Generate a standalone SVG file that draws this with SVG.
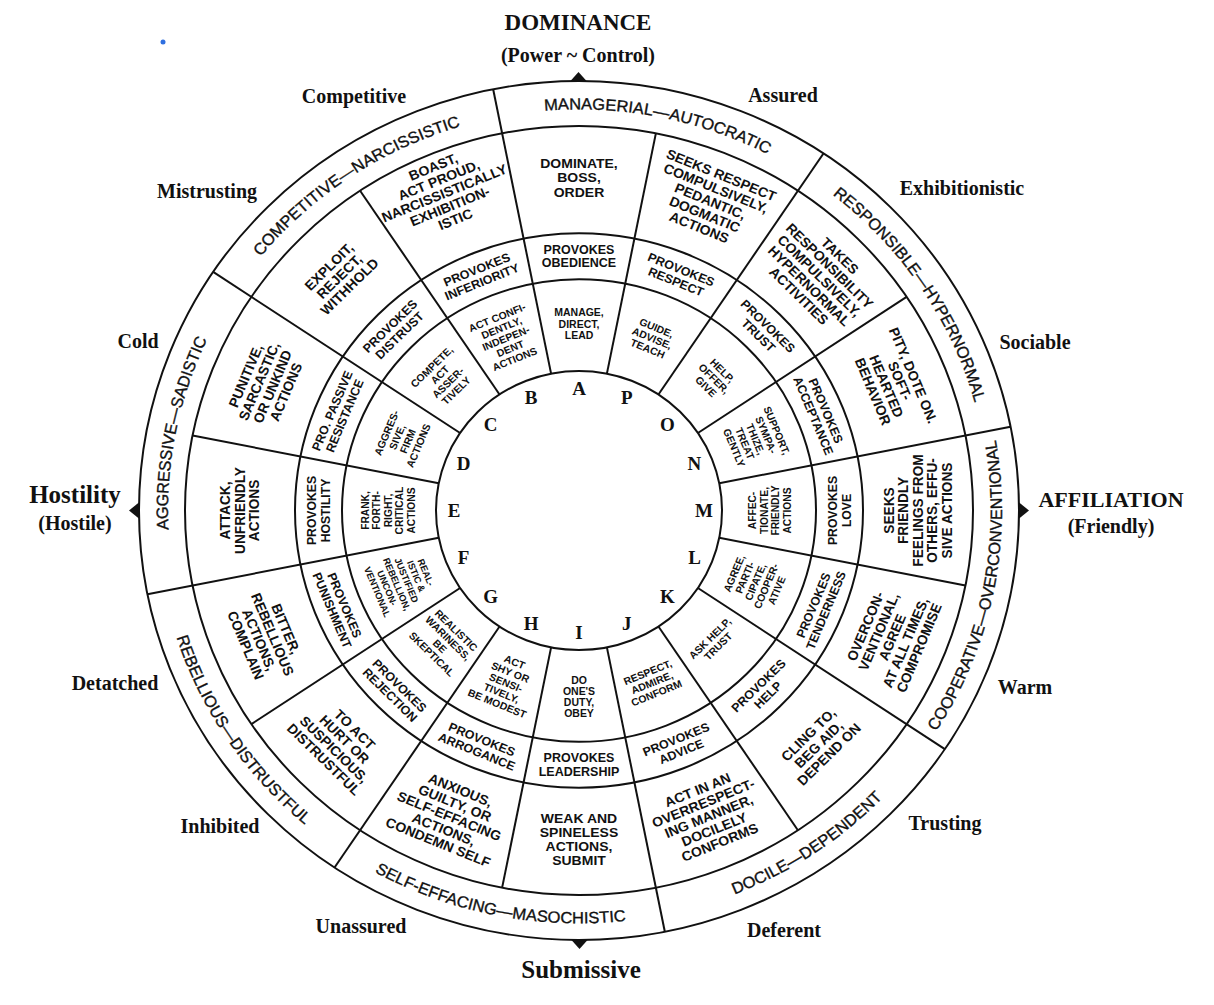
<svg xmlns="http://www.w3.org/2000/svg" width="1214" height="1005" viewBox="0 0 1214 1005">
<style>
.ln{fill:none;stroke:#111;stroke-width:2}
.o{font-family:"Liberation Sans",Arial,sans-serif;font-size:14px;font-weight:bold;text-anchor:middle;fill:#111}
.p{font-family:"Liberation Sans",Arial,sans-serif;font-size:12.5px;font-weight:bold;text-anchor:middle;fill:#111}
.i{font-family:"Liberation Sans",Arial,sans-serif;font-size:10.5px;font-weight:bold;text-anchor:middle;fill:#111}
.f{font-family:"Liberation Sans",Arial,sans-serif;font-size:9.5px;font-weight:bold;text-anchor:middle;fill:#111}
.b{font-family:"Liberation Sans",Arial,sans-serif;font-size:16.5px;fill:#111;stroke:#111;stroke-width:0.35}
.l{font-family:"Liberation Serif","Times New Roman",serif;font-size:19px;font-weight:bold;text-anchor:middle;fill:#111}
.s{font-family:"Liberation Serif","Times New Roman",serif;font-size:20px;font-weight:bold;text-anchor:middle;fill:#111}
.tri{fill:#111}
</style>
<defs>
<path id="pA" d="M -80.18,-403.10 A 411 411 0 0 1 228.34,-341.73"/>
<path id="pO" d="M 228.34,-341.73 A 411 411 0 0 1 403.10,-80.18"/>
<path id="pM" d="M 351.71,235.01 A 423 423 0 0 0 414.87,-82.52"/>
<path id="pK" d="M 82.52,414.87 A 423 423 0 0 0 351.71,235.01"/>
<path id="pI" d="M -235.01,351.71 A 423 423 0 0 0 82.52,414.87"/>
<path id="pG" d="M -414.87,82.52 A 423 423 0 0 0 -235.01,351.71"/>
<path id="pE" d="M -403.10,80.18 A 411 411 0 0 1 -341.73,-228.34"/>
<path id="pC" d="M -341.73,-228.34 A 411 411 0 0 1 -80.18,-403.10"/>
</defs>
<rect width="1214" height="1005" fill="#fff"/>
<circle cx="163" cy="42" r="2.5" fill="#2f6fe0"/>

<g id="axis-labels">
<text class="s" x="578" y="30" style="font-size:23px">DOMINANCE</text>
<text class="s" x="578" y="62">(Power ~ Control)</text>
<text class="s" x="75" y="503" style="font-size:25px">Hostility</text>
<text class="s" x="75" y="530">(Hostile)</text>
<text class="s" x="1111" y="507" style="font-size:22px">AFFILIATION</text>
<text class="s" x="1111" y="533">(Friendly)</text>
<text class="s" x="581" y="978" style="font-size:25px">Submissive</text>
</g>
<g id="trait-labels">
<text class="s" x="354" y="103">Competitive</text>
<text class="s" x="783" y="102">Assured</text>
<text class="s" x="207" y="198">Mistrusting</text>
<text class="s" x="962" y="195">Exhibitionistic</text>
<text class="s" x="138" y="348">Cold</text>
<text class="s" x="1035" y="349">Sociable</text>
<text class="s" x="115" y="690">Detatched</text>
<text class="s" x="1025" y="694">Warm</text>
<text class="s" x="220" y="833">Inhibited</text>
<text class="s" x="945" y="830">Trusting</text>
<text class="s" x="361" y="933">Unassured</text>
<text class="s" x="784" y="937">Deferent</text>
</g>
<g id="axis-markers">
<polygon class="tri" points="570,81.5 587,81.5 578.5,72"/>
<polygon class="tri" points="571,939.5 588,939.5 579.5,949"/>
<polygon class="tri" points="139.5,502 139.5,519 129,510.5"/>
<polygon class="tri" points="1018.5,502 1018.5,519 1029,510.5"/>
</g>

<g id="wheel" transform="translate(579,510.5) scale(1,0.976)">
<g id="rings">
<circle class="ln" r="143"/>
<circle class="ln" r="237"/>
<circle class="ln" r="284"/>
<circle class="ln" r="394"/>
<circle class="ln" r="440"/>
</g>
<g id="connectors">
<line class="ln" x1="0" y1="-143" x2="0" y2="-394" transform="rotate(11.25)"/>
<line class="ln" x1="0" y1="-143" x2="0" y2="-394" transform="rotate(56.25)"/>
<line class="ln" x1="0" y1="-143" x2="0" y2="-394" transform="rotate(101.25)"/>
<line class="ln" x1="0" y1="-143" x2="0" y2="-394" transform="rotate(146.25)"/>
<line class="ln" x1="0" y1="-143" x2="0" y2="-394" transform="rotate(191.25)"/>
<line class="ln" x1="0" y1="-143" x2="0" y2="-394" transform="rotate(236.25)"/>
<line class="ln" x1="0" y1="-143" x2="0" y2="-394" transform="rotate(281.25)"/>
<line class="ln" x1="0" y1="-143" x2="0" y2="-394" transform="rotate(326.25)"/>
<line class="ln" x1="0" y1="-143" x2="0" y2="-440" transform="rotate(33.75)"/>
<line class="ln" x1="0" y1="-143" x2="0" y2="-440" transform="rotate(78.75)"/>
<line class="ln" x1="0" y1="-143" x2="0" y2="-440" transform="rotate(123.75)"/>
<line class="ln" x1="0" y1="-143" x2="0" y2="-440" transform="rotate(168.75)"/>
<line class="ln" x1="0" y1="-143" x2="0" y2="-440" transform="rotate(213.75)"/>
<line class="ln" x1="0" y1="-143" x2="0" y2="-440" transform="rotate(258.75)"/>
<line class="ln" x1="0" y1="-143" x2="0" y2="-440" transform="rotate(303.75)"/>
<line class="ln" x1="0" y1="-143" x2="0" y2="-440" transform="rotate(348.75)"/>
</g>

<g id="band-labels">
<text class="b"><textPath href="#pA" startOffset="50%" text-anchor="middle">MANAGERIAL—AUTOCRATIC</textPath></text>
<text class="b"><textPath href="#pO" startOffset="50%" text-anchor="middle">RESPONSIBLE—HYPERNORMAL</textPath></text>
<text class="b"><textPath href="#pM" startOffset="50%" text-anchor="middle">COOPERATIVE—OVERCONVENTIONAL</textPath></text>
<text class="b"><textPath href="#pK" startOffset="50%" text-anchor="middle">DOCILE—DEPENDENT</textPath></text>
<text class="b"><textPath href="#pI" startOffset="50%" text-anchor="middle">SELF-EFFACING—MASOCHISTIC</textPath></text>
<text class="b"><textPath href="#pG" startOffset="50%" text-anchor="middle">REBELLIOUS—DISTRUSTFUL</textPath></text>
<text class="b"><textPath href="#pE" startOffset="50%" text-anchor="middle">AGGRESSIVE—SADISTIC</textPath></text>
<text class="b"><textPath href="#pC" startOffset="50%" text-anchor="middle">COMPETITIVE—NARCISSISTIC</textPath></text>
</g>

<g id="letters">
<text class="l" y="6.6" transform="rotate(0) translate(0,-125) rotate(0)">A</text>
<text class="l" y="6.6" transform="rotate(22.5) translate(0,-125) rotate(-22.5)">P</text>
<text class="l" y="6.6" transform="rotate(45) translate(0,-125) rotate(-45)">O</text>
<text class="l" y="6.6" transform="rotate(67.5) translate(0,-125) rotate(-67.5)">N</text>
<text class="l" y="6.6" transform="rotate(90) translate(0,-125) rotate(-90)">M</text>
<text class="l" y="6.6" transform="rotate(112.5) translate(0,-125) rotate(-112.5)">L</text>
<text class="l" y="6.6" transform="rotate(135) translate(0,-125) rotate(-135)">K</text>
<text class="l" y="6.6" transform="rotate(157.5) translate(0,-125) rotate(-157.5)">J</text>
<text class="l" y="6.6" transform="rotate(180) translate(0,-125) rotate(-180)">I</text>
<text class="l" y="6.6" transform="rotate(202.5) translate(0,-125) rotate(-202.5)">H</text>
<text class="l" y="6.6" transform="rotate(225) translate(0,-125) rotate(-225)">G</text>
<text class="l" y="6.6" transform="rotate(247.5) translate(0,-125) rotate(-247.5)">F</text>
<text class="l" y="6.6" transform="rotate(270) translate(0,-125) rotate(-270)">E</text>
<text class="l" y="6.6" transform="rotate(292.5) translate(0,-125) rotate(-292.5)">D</text>
<text class="l" y="6.6" transform="rotate(315) translate(0,-125) rotate(-315)">C</text>
<text class="l" y="6.6" transform="rotate(337.5) translate(0,-125) rotate(-337.5)">B</text>
</g>

<g id="outer-cells">
<g id="oA"><text class="o" transform="rotate(0) translate(0,-341)"><tspan x="0" y="-9.6">DOMINATE,</tspan><tspan x="0" y="4.9">BOSS,</tspan><tspan x="0" y="19.4">ORDER</tspan></text></g>
<g id="oP"><text class="o" transform="rotate(22.5) translate(0,-343)"><tspan x="0" y="-24.1">SEEKS RESPECT</tspan><tspan x="0" y="-9.6">COMPULSIVELY,</tspan><tspan x="0" y="4.9">PEDANTIC,</tspan><tspan x="0" y="19.4">DOGMATIC</tspan><tspan x="0" y="33.9">ACTIONS</tspan></text></g>
<g id="oO"><text class="o" transform="rotate(45) translate(0,-340)"><tspan x="0" y="-24.1">TAKES</tspan><tspan x="0" y="-9.6">RESPONSIBILITY</tspan><tspan x="0" y="4.9">COMPULSIVELY,</tspan><tspan x="0" y="19.4">HYPERNORMAL</tspan><tspan x="0" y="33.9">ACTIVITIES</tspan></text></g>
<g id="oN"><text class="o" transform="rotate(67.5) translate(0,-340)"><tspan x="0" y="-16.85">PITY, DOTE ON.</tspan><tspan x="0" y="-2.35">SOFT-</tspan><tspan x="0" y="12.15">HEARTED</tspan><tspan x="0" y="26.65">BEHAVIOR</tspan></text></g>
<g id="oM"><text class="o" transform="rotate(90) translate(0,-339) rotate(180)"><tspan x="0" y="-24.1">SEEKS</tspan><tspan x="0" y="-9.6">FRIENDLY</tspan><tspan x="0" y="4.9">FEELINGS FROM</tspan><tspan x="0" y="19.4">OTHERS, EFFU-</tspan><tspan x="0" y="33.9">SIVE ACTIONS</tspan></text></g>
<g id="oL"><text class="o" transform="rotate(112.5) translate(0,-339) rotate(180)"><tspan x="0" y="-24.1">OVERCON-</tspan><tspan x="0" y="-9.6">VENTIONAL,</tspan><tspan x="0" y="4.9">AGREE</tspan><tspan x="0" y="19.4">AT ALL TIMES,</tspan><tspan x="0" y="33.9">COMPROMISE</tspan></text></g>
<g id="oK"><text class="o" transform="rotate(135) translate(0,-339) rotate(180)"><tspan x="0" y="-9.6">CLING TO,</tspan><tspan x="0" y="4.9">BEG AID,</tspan><tspan x="0" y="19.4">DEPEND ON</tspan></text></g>
<g id="oJ"><text class="o" transform="rotate(157.5) translate(0,-339) rotate(180)"><tspan x="0" y="-24.1">ACT IN AN</tspan><tspan x="0" y="-9.6">OVERRESPECT-</tspan><tspan x="0" y="4.9">ING MANNER,</tspan><tspan x="0" y="19.4">DOCILELY</tspan><tspan x="0" y="33.9">CONFORMS</tspan></text></g>
<g id="oI"><text class="o" transform="rotate(180) translate(0,-337) rotate(180)"><tspan x="0" y="-16.85">WEAK AND</tspan><tspan x="0" y="-2.35">SPINELESS</tspan><tspan x="0" y="12.15">ACTIONS,</tspan><tspan x="0" y="26.65">SUBMIT</tspan></text></g>
<g id="oH"><text class="o" transform="rotate(202.5) translate(0,-339) rotate(180)"><tspan x="0" y="-24.1">ANXIOUS,</tspan><tspan x="0" y="-9.6">GUILTY, OR</tspan><tspan x="0" y="4.9">SELF-EFFACING</tspan><tspan x="0" y="19.4">ACTIONS,</tspan><tspan x="0" y="33.9">CONDEMN SELF</tspan></text></g>
<g id="oG"><text class="o" transform="rotate(225) translate(0,-339) rotate(180)"><tspan x="0" y="-16.85">TO ACT</tspan><tspan x="0" y="-2.35">HURT OR</tspan><tspan x="0" y="12.15">SUSPICIOUS,</tspan><tspan x="0" y="26.65">DISTRUSTFUL</tspan></text></g>
<g id="oF"><text class="o" transform="rotate(247.5) translate(0,-339) rotate(180)"><tspan x="0" y="-16.85">BITTER,</tspan><tspan x="0" y="-2.35">REBELLIOUS</tspan><tspan x="0" y="12.15">ACTIONS,</tspan><tspan x="0" y="26.65">COMPLAIN</tspan></text></g>
<g id="oE"><text class="o" transform="rotate(270) translate(0,-339)"><tspan x="0" y="-9.6">ATTACK,</tspan><tspan x="0" y="4.9">UNFRIENDLY</tspan><tspan x="0" y="19.4">ACTIONS</tspan></text></g>
<g id="oD"><text class="o" transform="rotate(292.5) translate(0,-339)"><tspan x="0" y="-16.85">PUNITIVE,</tspan><tspan x="0" y="-2.35">SARCASTIC,</tspan><tspan x="0" y="12.15">OR UNKIND</tspan><tspan x="0" y="26.65">ACTIONS</tspan></text></g>
<g id="oC"><text class="o" transform="rotate(315) translate(0,-339)"><tspan x="0" y="-9.6">EXPLOIT,</tspan><tspan x="0" y="4.9">REJECT,</tspan><tspan x="0" y="19.4">WITHHOLD</tspan></text></g>
<g id="oB"><text class="o" transform="rotate(337.5) translate(0,-352)"><tspan x="0" y="-24.1">BOAST,</tspan><tspan x="0" y="-9.6">ACT PROUD,</tspan><tspan x="0" y="4.9">NARCISSISTICALLY</tspan><tspan x="0" y="19.4">EXHIBITION-</tspan><tspan x="0" y="33.9">ISTIC</tspan></text></g>
</g>

<g id="provokes-cells">
<g id="pvA"><text class="p" transform="rotate(0) translate(0,-260.5)"><tspan x="0" y="-2.35">PROVOKES</tspan><tspan x="0" y="11.15">OBEDIENCE</tspan></text></g>
<g id="pvP"><text class="p" transform="rotate(22.5) translate(0,-260.5)"><tspan x="0" y="-2.35">PROVOKES</tspan><tspan x="0" y="11.15">RESPECT</tspan></text></g>
<g id="pvO"><text class="p" transform="rotate(45) translate(0,-260.5)"><tspan x="0" y="-2.35">PROVOKES</tspan><tspan x="0" y="11.15">TRUST</tspan></text></g>
<g id="pvN"><text class="p" transform="rotate(67.5) translate(0,-260.5)"><tspan x="0" y="-2.35">PROVOKES</tspan><tspan x="0" y="11.15">ACCEPTANCE</tspan></text></g>
<g id="pvM"><text class="p" transform="rotate(90) translate(0,-260.5) rotate(180)"><tspan x="0" y="-2.35">PROVOKES</tspan><tspan x="0" y="11.15">LOVE</tspan></text></g>
<g id="pvL"><text class="p" transform="rotate(112.5) translate(0,-260.5) rotate(180)"><tspan x="0" y="-2.35">PROVOKES</tspan><tspan x="0" y="11.15">TENDERNESS</tspan></text></g>
<g id="pvK"><text class="p" transform="rotate(135) translate(0,-260.5) rotate(180)"><tspan x="0" y="-2.35">PROVOKES</tspan><tspan x="0" y="11.15">HELP</tspan></text></g>
<g id="pvJ"><text class="p" transform="rotate(157.5) translate(0,-260.5) rotate(180)"><tspan x="0" y="-2.35">PROVOKES</tspan><tspan x="0" y="11.15">ADVICE</tspan></text></g>
<g id="pvI"><text class="p" transform="rotate(180) translate(0,-260.5) rotate(180)"><tspan x="0" y="-2.35">PROVOKES</tspan><tspan x="0" y="11.15">LEADERSHIP</tspan></text></g>
<g id="pvH"><text class="p" transform="rotate(202.5) translate(0,-260.5) rotate(180)"><tspan x="0" y="-2.35">PROVOKES</tspan><tspan x="0" y="11.15">ARROGANCE</tspan></text></g>
<g id="pvG"><text class="p" transform="rotate(225) translate(0,-260.5) rotate(180)"><tspan x="0" y="-2.35">PROVOKES</tspan><tspan x="0" y="11.15">REJECTION</tspan></text></g>
<g id="pvF"><text class="p" transform="rotate(247.5) translate(0,-260.5) rotate(180)"><tspan x="0" y="-2.35">PROVOKES</tspan><tspan x="0" y="11.15">PUNISHMENT</tspan></text></g>
<g id="pvE"><text class="p" transform="rotate(270) translate(0,-260.5)"><tspan x="0" y="-2.35">PROVOKES</tspan><tspan x="0" y="11.15">HOSTILITY</tspan></text></g>
<g id="pvD"><text class="p" transform="rotate(292.5) translate(0,-260.5)"><tspan x="0" y="-2.35">PRO. PASSIVE</tspan><tspan x="0" y="11.15">RESISTANCE</tspan></text></g>
<g id="pvC"><text class="p" transform="rotate(315) translate(0,-260.5)"><tspan x="0" y="-2.35">PROVOKES</tspan><tspan x="0" y="11.15">DISTRUST</tspan></text></g>
<g id="pvB"><text class="p" transform="rotate(337.5) translate(0,-260.5)"><tspan x="0" y="-2.35">PROVOKES</tspan><tspan x="0" y="11.15">INFERIORITY</tspan></text></g>
</g>

<g id="inner-cells">
<g id="iA"><text class="i" transform="rotate(0) translate(0,-191)"><tspan x="0" y="-7.8">MANAGE,</tspan><tspan x="0" y="3.7">DIRECT,</tspan><tspan x="0" y="15.2">LEAD</tspan></text></g>
<g id="iP"><text class="i" transform="rotate(22.5) translate(0,-191)"><tspan x="0" y="-7.8">GUIDE,</tspan><tspan x="0" y="3.7">ADVISE,</tspan><tspan x="0" y="15.2">TEACH</tspan></text></g>
<g id="iO"><text class="i" transform="rotate(45) translate(0,-191)"><tspan x="0" y="-7.8">HELP,</tspan><tspan x="0" y="3.7">OFFER,</tspan><tspan x="0" y="15.2">GIVE</tspan></text></g>
<g id="iN"><text class="i" transform="rotate(67.5) translate(0,-191)"><tspan x="0" y="-19.3">SUPPORT,</tspan><tspan x="0" y="-7.8">SYMPA-</tspan><tspan x="0" y="3.7">THIZE,</tspan><tspan x="0" y="15.2">TREAT</tspan><tspan x="0" y="26.7">GENTLY</tspan></text></g>
<g id="iM"><text class="i" transform="rotate(90) translate(0,-191) rotate(180)"><tspan x="0" y="-13.55">AFFEC-</tspan><tspan x="0" y="-2.05">TIONATE,</tspan><tspan x="0" y="9.45">FRIENDLY</tspan><tspan x="0" y="20.95">ACTIONS</tspan></text></g>
<g id="iL"><text class="i" transform="rotate(112.5) translate(0,-191) rotate(180)"><tspan x="0" y="-19.3">AGREE,</tspan><tspan x="0" y="-7.8">PARTI-</tspan><tspan x="0" y="3.7">CIPATE,</tspan><tspan x="0" y="15.2">COOPER-</tspan><tspan x="0" y="26.7">ATIVE</tspan></text></g>
<g id="iK"><text class="i" transform="rotate(135) translate(0,-191) rotate(180)"><tspan x="0" y="-2.05">ASK HELP,</tspan><tspan x="0" y="9.45">TRUST</tspan></text></g>
<g id="iJ"><text class="i" transform="rotate(157.5) translate(0,-191) rotate(180)"><tspan x="0" y="-7.8">RESPECT,</tspan><tspan x="0" y="3.7">ADMIRE,</tspan><tspan x="0" y="15.2">CONFORM</tspan></text></g>
<g id="iI"><text class="i" transform="rotate(180) translate(0,-191) rotate(180)"><tspan x="0" y="-13.55">DO</tspan><tspan x="0" y="-2.05">ONE'S</tspan><tspan x="0" y="9.45">DUTY,</tspan><tspan x="0" y="20.95">OBEY</tspan></text></g>
<g id="iH"><text class="i" transform="rotate(202.5) translate(0,-191) rotate(180)"><tspan x="0" y="-19.3">ACT</tspan><tspan x="0" y="-7.8">SHY OR</tspan><tspan x="0" y="3.7">SENSI-</tspan><tspan x="0" y="15.2">TIVELY,</tspan><tspan x="0" y="26.7">BE MODEST</tspan></text></g>
<g id="iG"><text class="i" transform="rotate(225) translate(0,-191) rotate(180)"><tspan x="0" y="-13.55">REALISTIC</tspan><tspan x="0" y="-2.05">WARINESS,</tspan><tspan x="0" y="9.45">BE</tspan><tspan x="0" y="20.95">SKEPTICAL</tspan></text></g>
<g id="iF"><text class="f" transform="rotate(247.5) translate(0,-192) rotate(180)"><tspan x="0" y="-22.95">REAL-</tspan><tspan x="0" y="-12.45">ISTIC &amp;</tspan><tspan x="0" y="-1.95">JUSTIFIED</tspan><tspan x="0" y="8.55">REBELLION,</tspan><tspan x="0" y="19.05">UNCON-</tspan><tspan x="0" y="29.55">VENTIONAL</tspan></text></g>
<g id="iE"><text class="i" transform="rotate(270) translate(0,-191)"><tspan x="0" y="-19.3">FRANK,</tspan><tspan x="0" y="-7.8">FORTH-</tspan><tspan x="0" y="3.7">RIGHT,</tspan><tspan x="0" y="15.2">CRITICAL</tspan><tspan x="0" y="26.7">ACTIONS</tspan></text></g>
<g id="iD"><text class="i" transform="rotate(292.5) translate(0,-191)"><tspan x="0" y="-13.55">AGGRES-</tspan><tspan x="0" y="-2.05">SIVE,</tspan><tspan x="0" y="9.45">FIRM</tspan><tspan x="0" y="20.95">ACTIONS</tspan></text></g>
<g id="iC"><text class="i" transform="rotate(315) translate(0,-191)"><tspan x="0" y="-13.55">COMPETE,</tspan><tspan x="0" y="-2.05">ACT</tspan><tspan x="0" y="9.45">ASSER-</tspan><tspan x="0" y="20.95">TIVELY</tspan></text></g>
<g id="iB"><text class="i" transform="rotate(337.5) translate(0,-191)"><tspan x="0" y="-19.3">ACT CONFI-</tspan><tspan x="0" y="-7.8">DENTLY,</tspan><tspan x="0" y="3.7">INDEPEN-</tspan><tspan x="0" y="15.2">DENT</tspan><tspan x="0" y="26.7">ACTIONS</tspan></text></g>
</g>
</g>
</svg>
